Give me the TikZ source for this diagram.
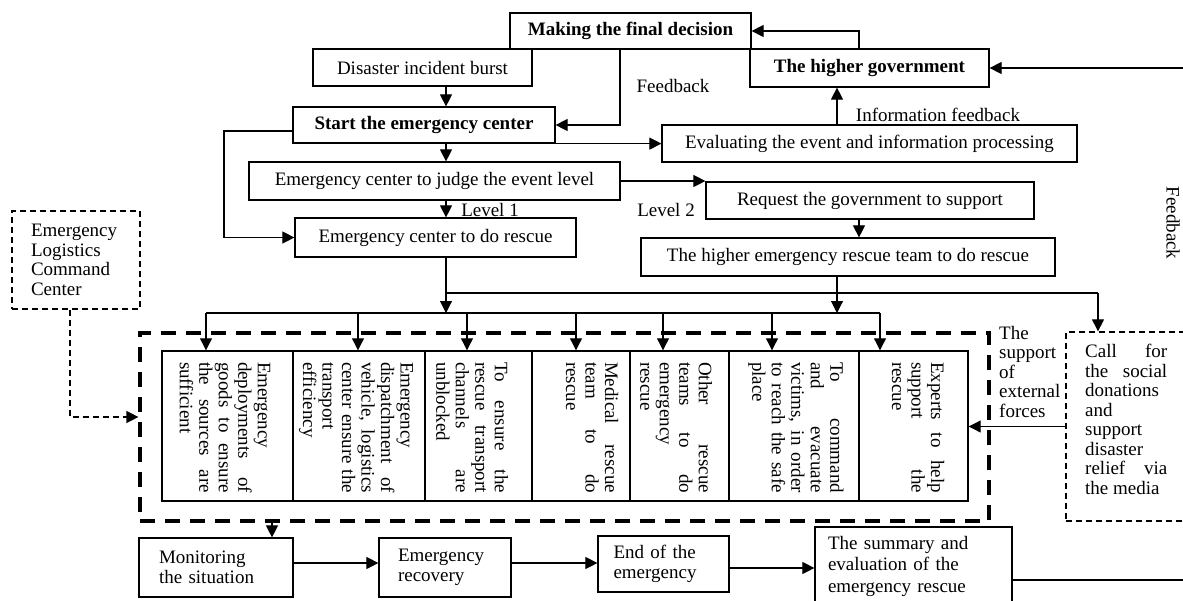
\documentclass[tikz,border=0pt]{standalone}
\usepackage{fontspec}
\setmainfont{Liberation Serif}
\usetikzlibrary{arrows.meta}
\newcommand{\jl}[2][131pt]{\makebox[#1][s]{#2}}
\begin{document}
\begin{tikzpicture}[x=1pt,y=-1pt,
  every node/.style={font=\fontsize{19}{19.5}\selectfont, inner sep=0pt},
  bf/.style={font=\fontsize{19}{19.5}\selectfont\bfseries},
  box/.style={draw, line width=1.2pt},
  ibox/.style={draw, line width=1.4pt},
  arr/.style={-{Triangle[length=12pt,width=12pt]}, line width=1.1pt},
  ln/.style={line width=1.1pt},
  thind/.style={draw, line width=1.3pt, dash pattern=on 6pt off 4pt},
  thinl/.style={line width=1.3pt, dash pattern=on 6pt off 4pt},
  bigd/.style={draw, line width=3.2pt, dash pattern=on 15pt off 10pt},
  vt/.style={rotate=-90, align=left},
  lt/.style={align=left}
]
\useasboundingbox (0,0) rectangle (1183,600);
\fill[white] (0,0) rectangle (1183,600);

% helper coordinates
\coordinate (x446) at (446,0);
\coordinate (x224) at (224,0);
\coordinate (x620) at (620,0);
\coordinate (x859) at (859,0);
\coordinate (x837) at (837,0);
\coordinate (x1098) at (1098,0);
\coordinate (x70) at (70,0);
\coordinate (x272) at (272,0);
\coordinate (y293) at (0,293);
\coordinate (y313) at (0,313);
\coordinate (y417) at (0,417);
\coordinate (y563) at (0,563);
\coordinate (y568) at (0,568);

% top part
\node[box, bf, minimum width=241pt, minimum height=36pt] (decision) at (630.5,31) {Making the final decision};
\node[box, minimum width=219pt, minimum height=37pt] (disaster) at (422.5,67.5) {Disaster incident burst};
\node[box, bf, minimum width=239pt, minimum height=38pt] (highergov) at (869.5,68) {The higher government};
\node[box, bf, minimum width=262pt, minimum height=36pt] (start) at (424,125) {Start the emergency center};
\node[box, minimum width=415pt, minimum height=37pt] (eval) at (869.5,143.5) {Evaluating the event and information processing};
\node[box, minimum width=371pt, minimum height=38pt] (judge) at (434.5,181) {Emergency center to judge the event level};
\node[box, minimum width=281pt, minimum height=39pt] (rescue) at (435.5,237.5) {Emergency center to do rescue};
\node[box, minimum width=328pt, minimum height=37pt] (request) at (870,200.5) {Request the government to support};
\node[box, minimum width=414pt, minimum height=38pt] (team) at (848,257) {The higher emergency rescue team to do rescue};

\node (lfb) at (673,86) {Feedback};
\node (linfo) at (938,115) {Information feedback};
\node (l1) at (490,210) {Level 1};
\node (l2) at (666,210) {Level 2};
\node[rotate=-90] (rfb) at (1173,223) {Feedback};

% left command center
\node[thind, minimum width=128pt, minimum height=98pt, text width=90pt, inner xsep=19pt, align=left] (logi) at (76,260) {Emergency\\ Logistics\\ Command\\ Center};

% big dashed frame and inner boxes
\node[bigd, minimum width=849pt, minimum height=188pt] (bigbox) at (564.5,427) {};
\node[ibox, minimum width=131pt, minimum height=150pt] (b1) at (227.5,426) {};
\node[ibox, minimum width=132pt, minimum height=150pt] (b2) at (359,426) {};
\node[ibox, minimum width=107pt, minimum height=150pt] (b3) at (478.5,426) {};
\node[ibox, minimum width=98pt, minimum height=150pt] (b4) at (581,426) {};
\node[ibox, minimum width=99pt, minimum height=150pt] (b5) at (679.5,426) {};
\node[ibox, minimum width=130pt, minimum height=150pt] (b6) at (794,426) {};
\node[ibox, minimum width=109pt, minimum height=150pt] (b7) at (913.5,426) {};

\node[vt] (v1) at (225,427.5) {Emergency\\ \jl{deployments of}\\ \jl{goods to ensure}\\ \jl{the sources are}\\ sufficient};
\node[vt] (v2) at (356,427.5) {Emergency\\ \jl{dispatchment of}\\ \jl{vehicle, logistics}\\ \jl{center ensure the}\\ transport\\ efficiency};
\node[vt] (v3) at (472,427.5) {\jl{To ensure the}\\ \jl{rescue transport}\\ \jl{channels are}\\ unblocked};
\node[vt] (v4) at (592,427.5) {\jl{Medical rescue}\\ \jl{team to do}\\ rescue};
\node[vt] (v5) at (676,427.5) {\jl{Other rescue}\\ \jl{teams to do}\\ emergency\\ rescue};
\node[vt] (v6) at (796,427.5) {\jl{To command}\\ \jl{and evacuate}\\ \jl{victims, in order}\\ \jl{to reach the safe}\\ place};
\node[vt] (v7) at (918,427.5) {\jl{Experts to help}\\ \jl{support the}\\ rescue};

% external support
\node[lt, anchor=west] (ext) at (999,371.5) {The\\ support\\ of\\ external\\ forces};
\node[thind, minimum width=120pt, minimum height=189pt] (call) at (1126,426.5) {};
\node[lt, anchor=west] (calltxt) at (1085,419.5) {\jl[82pt]{Call for}\\ \jl[82pt]{the social}\\ donations\\ and\\ support\\ disaster\\ \jl[82pt]{relief via}\\ the media};

% bottom row
\node[box, minimum width=154pt, minimum height=59pt, text width=114pt, inner xsep=20pt, align=left] (monitor) at (216,567.5) {Monitoring\\ the situation};
\node[box, minimum width=132pt, minimum height=59pt, text width=94pt, inner xsep=19pt, align=left] (recovery) at (445,567.5) {Emergency\\ recovery};
\node[box, minimum width=131pt, minimum height=56pt, text width=100pt, inner xsep=15.5pt, align=left] (endn) at (663.5,564) {\jl[100pt]{End of the}\\ emergency};
\node[box, minimum width=197pt, minimum height=78pt, text width=171pt, inner xsep=13pt, align=left, font=\fontsize{19}{21.5}\selectfont] (summary) at (913.5,566) {\jl[171pt]{The summary and}\\ \jl[171pt]{evaluation of the}\\ emergency rescue};

% connectors, top
\draw[arr] (decision.south -| x620) |- (start.east);
\draw[arr] (highergov.north -| x859) |- (decision.east);
\draw[arr] (disaster.south -| x446) -- (start.north -| x446);
\draw[arr] (start.south -| x446) -- (judge.north -| x446);
\draw[arr] (judge.south -| x446) -- (rescue.north -| x446);
\coordinate (sL) at ([yshift=-6pt]start.west);
\draw[arr] (sL) -- (sL -| x224) |- (rescue.west);
\draw[arr] (start.south east) -- (start.south east -| eval.west);
\draw[arr] (eval.north -| x837) -- (highergov.south -| x837);
\draw[arr] (judge.east) -- (judge.east -| request.west);
\draw[arr] (request.south -| x859) -- (team.north -| x859);

% connectors, to the rescue actions
\draw[arr] (rescue.south -| x446) -- (x446 |- y313);
\draw[arr] (team.south -| x837) -- (x837 |- y313);
\draw[ln] (x446 |- y293) -- (x1098 |- y293);
\draw[arr] (x1098 |- y293) -- (call.north -| x1098);
\coordinate (t1) at (206,313);
\coordinate (t2) at (358,313);
\coordinate (t3) at (467,313);
\coordinate (t4) at (576,313);
\coordinate (t5) at (663,313);
\coordinate (t6) at (772,313);
\coordinate (t7) at (880,313);
\draw[ln] (t1) -- (t7);
\foreach \i in {1,...,7} {\draw[arr] (t\i) -- (t\i |- b\i.north);}

\draw[arr, thinl] (logi.south -| x70) |- (bigbox.west |- y417);
\draw[arr] (call.west) -- (call.west -| b7.east);

% connectors, bottom row
\draw[arr] (bigbox.south -| x272) -- (monitor.north -| x272);
\draw[arr] (monitor.east |- y563) -- (recovery.west |- y563);
\draw[arr] (recovery.east |- y563) -- (endn.west |- y563);
\draw[arr] (endn.east |- y568) -- (summary.west |- y568);
\coordinate (fbB) at (1189,580);
\coordinate (fbT) at (1189,68);
\draw[arr] (summary.east |- fbB) -- (fbB) -- (fbT) -- (highergov.east |- fbT);
\end{tikzpicture}
\end{document}
